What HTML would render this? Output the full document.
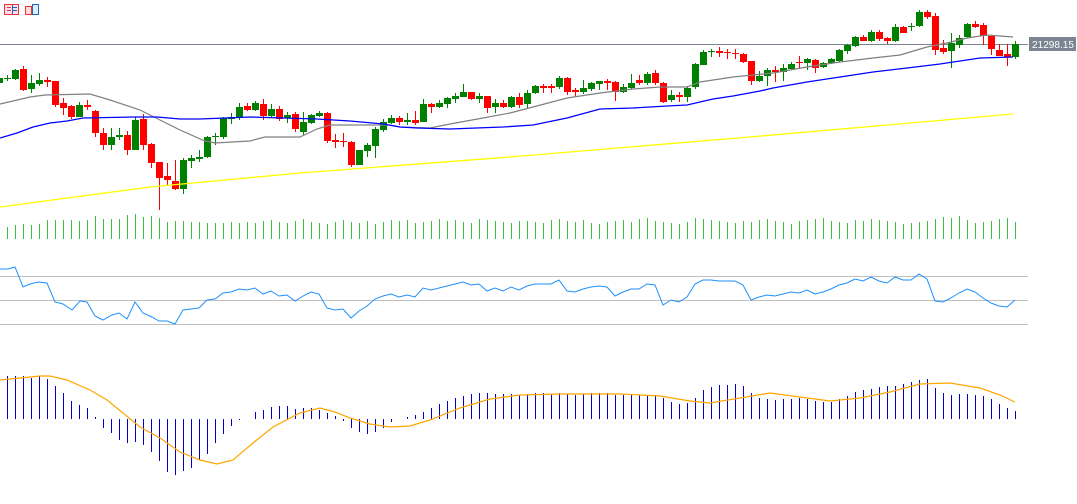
<!DOCTYPE html>
<html><head><meta charset="utf-8"><style>
html,body{margin:0;padding:0;background:#fff;width:1077px;height:504px;overflow:hidden}
svg{display:block}
text{font-family:"Liberation Sans",sans-serif}
</style></head><body>
<svg id="s" width="1077" height="504" xmlns="http://www.w3.org/2000/svg" shape-rendering="crispEdges">
<rect x="4.5" y="4.5" width="14" height="10" fill="#fde" stroke="#e33"/>
<line x1="7" y1="7.5" x2="11" y2="7.5" stroke="#e33"/><line x1="7" y1="10.5" x2="11" y2="10.5" stroke="#e33"/>
<line x1="12" y1="7.5" x2="17" y2="7.5" stroke="#26b"/><line x1="12" y1="10.5" x2="17" y2="10.5" stroke="#26b"/><line x1="12.5" y1="5" x2="12.5" y2="14" stroke="#26b"/>
<rect x="25.5" y="6.5" width="6" height="8" fill="#fdd" stroke="#e33"/>
<rect x="32.5" y="4.5" width="6" height="10" fill="#def" stroke="#26b"/>
<line x1="0" y1="44.5" x2="1028" y2="44.5" stroke="#7a8591"/>
<rect x="1029" y="37" width="47" height="14" fill="#7a8591"/>
<text x="1032" y="48" fill="#fff" font-size="10" textLength="42" lengthAdjust="spacingAndGlyphs">21298.15</text>
<line x1="0" y1="276.5" x2="1028" y2="276.5" stroke="#c0c0c0"/>
<line x1="0" y1="300.5" x2="1028" y2="300.5" stroke="#c0c0c0"/>
<line x1="0" y1="324.5" x2="1028" y2="324.5" stroke="#c0c0c0"/>
</svg>
<script>
var s=document.getElementById('s'),NS='http://www.w3.org/2000/svg';
function el(n,a){var e=document.createElementNS(NS,n);for(var k in a)e.setAttribute(k,a[k]);s.appendChild(e);return e;}
function pl(p,c,w){el('polyline',{points:p.map(function(q){return q.join(',')}).join(' '),fill:'none',stroke:c,'stroke-width':w||1,'shape-rendering':'auto'});}
var C=[
['g',78,83,76,84],['g',78,79,75,81],['g',70,79,69,80],['r',69,90,66,91],['g',83,89,75,93],['g',80,84,73,86],['r',80,82,77,87],['r',81,105,81,107],
['r',103,108,98,115],['r',106,117,105,119],['g',105,117,102,117],['r',105,107,100,110],['r',111,133,110,137],['r',133,145,128,150],['g',137,145,128,150],['g',135,137,128,140],
['r',135,150,131,155],['g',120,150,117,150],['r',119,145,114,150],['r',144,163,143,168],['r',162,178,162,210],['r',176,180,163,185],['r',181,189,160,190],['g',160,189,158,194],
['g',158,161,155,168],['g',157,159,150,162],['g',137,157,136,158],['g',136,137,133,145],['g',118,137,117,139],['g',117,119,113,124],['g',107,117,103,120],['r',106,110,103,111],
['g',103,110,101,111],['r',104,116,99,120],['g',109,116,104,117],['r',109,119,106,121],['g',115,118,112,123],['r',114,129,112,132],['g',122,132,112,135],['g',115,123,114,124],
['g',113,116,111,117],['r',113,141,112,143],['r',140,142,134,148],['r',141,142,133,147],['r',142,165,141,167],['g',150,165,150,165],['g',145,151,143,157],['g',129,146,127,158],
['g',122,130,119,132],['g',118,123,115,124],['r',118,122,116,125],['g',120,122,113,125],['r',120,123,111,125],['g',104,122,99,122],['r',104,107,103,113],['g',103,107,100,108],
['g',98,104,97,108],['g',96,99,93,103],['g',92,97,84,97],['r',92,99,92,100],['g',96,99,93,103],['r',96,108,96,113],['g',103,107,99,113],['r',103,107,100,108],
['g',97,107,96,108],['r',97,105,93,108],['g',93,104,90,108],['g',86,93,85,94],['r',86,88,84,93],['r',86,88,84,93],['g',78,87,76,89],['r',78,92,77,95],
['r',90,92,88,96],['g',88,92,80,94],['g',83,89,82,91],['g',81,84,81,90],['r',81,83,79,90],['r',82,92,81,101],['g',87,92,84,93],['g',83,88,74,89],
['r',80,83,75,85],['g',74,83,72,85],['r',73,83,70,85],['r',83,102,82,103],['g',95,100,90,102],['r',95,97,92,102],['g',88,97,86,102],['g',64,87,63,89],
['g',52,65,50,65],['g',51,52,49,57],['r',51,53,47,57],['r',52,53,49,59],['r',53,54,49,59],['r',54,62,53,63],['r',61,81,61,85],['g',76,81,71,82],
['g',70,76,68,86],['r',70,72,66,82],['g',68,72,64,81],['g',64,69,62,70],['r',62,63,56,69],['g',59,63,58,70],['r',60,68,59,73],['g',63,67,62,68],
['g',59,63,58,64],['g',50,61,49,62],['g',45,51,44,54],['g',37,46,36,47],['r',37,41,35,41],['g',32,41,30,42],['r',32,39,30,41],['r',38,41,37,44],
['g',27,41,24,42],['r',27,33,26,33],['g',26,27,23,31],['g',12,26,10,27],['r',12,17,10,19],['r',16,50,13,55],['r',48,52,40,54],['g',43,51,33,68],
['g',38,45,35,48],['g',24,37,23,38],['r',24,27,21,28],['r',25,36,23,45],['r',36,49,35,55],['r',50,56,44,56],['r',54,57,44,66],['g',44,57,41,59]];
var vol=[13,12,14,15,14,15,19,19,19,19,18,19,23,20,20,20,24,25,22,23,21,17,18,18,17,17,16,16,16,17,16,17,16,18,19,17,16,18,20,17,16,15,17,19,17,16,18,15,17,19,18,19,16,17,18,20,18,19,17,16,20,19,18,17,16,18,18,17,16,19,20,18,17,19,16,15,17,18,19,17,20,21,18,17,16,15,17,21,20,19,18,17,16,18,17,19,20,18,17,15,18,19,20,21,18,17,16,19,18,20,19,18,17,15,16,17,18,20,22,21,23,19,16,17,18,20,21,17];
C.forEach(function(c,k){var x=-1+8*k,col=c[0]=='g'?'#008000':'#ff0000';
el('line',{x1:x+.5,y1:c[3],x2:x+.5,y2:c[4],stroke:col});
var h=Math.max(1,c[2]-c[1]);el('rect',{x:x-3,y:c[1],width:7,height:h,fill:col});
el('line',{x1:x+.5,y1:239,x2:x+.5,y2:239-vol[k],stroke:'#3cbf3c'});});
pl([[0,207],[150,187],[300,173],[510,157],[750,137],[1013,114]],'#ffff00',1.3);
pl([[0,104],[30,97],[45,95],[90,94],[110,100],[140,110],[160,120],[180,130],[205,141],[215,143],[250,141],[265,137],[300,137],[317,129],[330,125],[390,125],[400,127],[430,128],[450,124],[483,118],[510,113],[533,107],[567,98],[600,93],[633,89],[660,87],[687,87],[700,82],[733,77],[773,73],[807,67],[840,62],[873,58],[900,55],[927,47],[947,43],[967,38],[987,35],[1013,37]],'#808080',1.2);
pl([[0,138],[17,133],[33,127],[50,123],[67,121],[83,118],[133,117],[157,117],[180,119],[200,119],[250,117],[317,119],[350,121],[383,124],[400,127],[417,128],[450,129],[503,127],[533,125],[567,118],[600,109],[633,108],[667,106],[687,105],[713,99],[733,96],[760,91],[773,88],[807,82],[840,77],[873,72],[907,68],[940,64],[980,58],[1013,57]],'#0000ff',1.3);
var R=[[0,269],[8,269],[15,267],[23,287],[30,284],[38,282],[47,283],[55,302],[63,304],[72,310],[80,301],[87,302],[95,316],[103,320],[112,315],[119,313],[127,319],[135,302],[143,313],[152,317],[159,321],[167,321],[175,324],[183,310],[191,309],[199,308],[207,300],[215,299],[223,293],[231,292],[239,289],[247,290],[255,288],[263,294],[271,291],[279,296],[287,295],[295,301],[303,296],[311,292],[319,294],[327,308],[335,310],[343,309],[351,318],[359,311],[367,306],[375,299],[383,296],[391,294],[399,297],[407,295],[415,297],[423,288],[431,290],[439,288],[447,286],[455,284],[463,282],[471,285],[479,284],[487,291],[495,288],[503,291],[511,287],[519,290],[527,286],[535,284],[543,284],[551,284],[559,280],[567,291],[575,292],[583,289],[591,287],[599,286],[607,287],[615,296],[623,292],[631,289],[639,289],[647,284],[655,285],[663,305],[671,300],[679,302],[687,297],[695,284],[703,280],[711,280],[719,281],[727,281],[735,281],[743,285],[751,300],[759,297],[767,295],[775,296],[783,294],[791,292],[799,293],[807,290],[815,294],[823,292],[831,289],[839,285],[847,283],[855,279],[863,281],[871,277],[879,281],[887,283],[895,277],[903,280],[911,280],[919,274],[927,279],[935,301],[943,302],[951,298],[959,293],[967,289],[975,292],[983,298],[991,303],[999,306],[1007,307],[1015,300]];
pl(R,'#1e90ff',1);
var M=[376,376,376,376,378,376,379,386,393,401,405,408,417,428,433,440,443,442,445,452,461,472,475,471,468,460,454,443,434,426,420,419,412,410,407,406,406,409,408,408,410,413,416,421,428,432,434,432,428,422,419,417,415,412,408,404,401,398,396,394,393,393,394,394,394,395,394,393,393,394,393,394,395,394,393,393,393,395,395,395,395,395,395,398,402,404,403,398,390,387,385,385,384,386,393,398,399,400,399,399,398,399,401,402,402,399,396,392,390,389,387,386,386,384,382,380,379,388,393,395,394,394,395,396,399,404,408,411];
M.forEach(function(v,k){var x=-1+8*k;if(Math.abs(v-419)<1)return;el('line',{x1:x+.5,y1:419,x2:x+.5,y2:v,stroke:'#0000cd'});});
pl([[0,380],[20,378],[40,376],[50,376],[67,380],[90,390],[107,400],[123,413],[140,427],[160,438],[180,452],[200,460],[217,464],[233,460],[253,443],[273,427],[300,413],[320,408],[335,412],[350,418],[370,424],[390,427],[410,426],[430,420],[460,408],[490,399],[520,395],[560,394],[620,394],[660,396],[690,401],[710,403],[740,398],[770,393],[800,397],[830,401],[860,398],[890,392],[920,384],[950,383],[980,388],[1000,395],[1015,402]],'#ffa500',1.2);
</script>
</body></html>
